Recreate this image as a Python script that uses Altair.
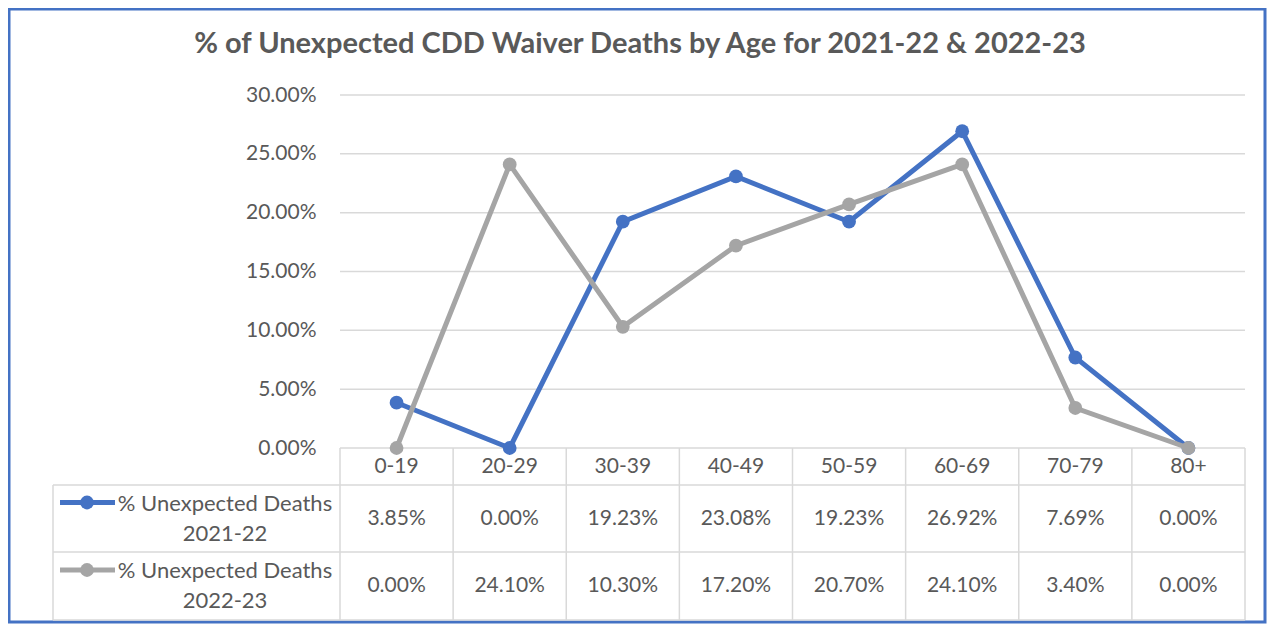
import altair as alt
import pandas as pd

# ---------------- data ----------------
ages = ["0-19", "20-29", "30-39", "40-49", "50-59", "60-69", "70-79", "80+"]
series_names = ["% Unexpected Deaths 2021-22", "% Unexpected Deaths 2022-23"]
vals_2021_22 = [0.0385, 0.0000, 0.1923, 0.2308, 0.1923, 0.2692, 0.0769, 0.0000]
vals_2022_23 = [0.0000, 0.2410, 0.1030, 0.1720, 0.2070, 0.2410, 0.0340, 0.0000]
y_ticks = [0.0, 0.05, 0.10, 0.15, 0.20, 0.25, 0.30]
title_text = "% of Unexpected CDD Waiver Deaths by Age for 2021-22 & 2022-23"

# ---------------- style / layout ----------------
colors = ["#4472C4", "#A5A5A5"]
text_color = "#595959"
grid_color = "#D9D9D9"
border_color = "#4472C4"
FONT = "Lato"
FS = 21

W, H = 1192, 525          # layer area (legend column + plot + table)
PL, PT, PR, PB = 45, 87, 22, 4
X0 = 287                  # left edge of category columns
Y_ZERO = 353              # pixel of 0 %
STEP = (W - X0) / len(ages)
ROW_Y = [353, 390, 457, 525]   # table row borders
ROW_CENTER = [371.5, 423.5, 491]

xscale = alt.Scale(type="point", domain=ages, range=[X0, W], padding=0.5)
yscale = alt.Scale(domain=[0, 0.30], range=[Y_ZERO, 0], nice=False)
yaxis = alt.Axis(offset=-X0, labelPadding=24, ticks=False, domain=False, grid=False,
                 format=".2%", values=y_ticks, labelFont=FONT, labelFontSize=FS,
                 labelColor=text_color, title=None)

def x_enc():
    return alt.X("age:N", scale=xscale, axis=None, sort=ages)

def y_enc():
    return alt.Y("v:Q", scale=yscale, axis=yaxis)

one = pd.DataFrame({"k": [0]})
def deco():
    return alt.Chart(one)

layers = []

# outer border
layers.append(deco().mark_rect(filled=False, stroke=border_color, strokeWidth=3).encode(
    x=alt.value(-44), x2=alt.value(W + 20), y=alt.value(-86), y2=alt.value(H + 2)))

# title
layers.append(deco().mark_text(text=title_text, font=FONT, fontSize=29, fontWeight="bold",
                               color=text_color, align="center", baseline="alphabetic").encode(
    x=alt.value(587), y=alt.value(-42)))

# gridlines (+ y axis)
grid_df = pd.DataFrame({"v": y_ticks})
layers.append(alt.Chart(grid_df).mark_rule(color=grid_color, strokeWidth=1.5).encode(
    y=y_enc(), x=alt.value(X0), x2=alt.value(W)))

# table horizontal borders
for yy in ROW_Y[1:]:
    layers.append(deco().mark_rule(color=grid_color, strokeWidth=1.5).encode(
        x=alt.value(0), x2=alt.value(W), y=alt.value(yy)))
# left border of legend column
layers.append(deco().mark_rule(color=grid_color, strokeWidth=1.5).encode(
    x=alt.value(0), y=alt.value(ROW_Y[1]), y2=alt.value(ROW_Y[3])))
# column dividers
age_df = pd.DataFrame({"age": ages})
layers.append(alt.Chart(age_df).mark_rule(color=grid_color, strokeWidth=1.5, xOffset=-STEP / 2).encode(
    x=x_enc(), y=alt.value(ROW_Y[0]), y2=alt.value(ROW_Y[3])))
layers.append(alt.Chart(pd.DataFrame({"age": [ages[-1]]})).mark_rule(
    color=grid_color, strokeWidth=1.5, xOffset=STEP / 2).encode(
    x=x_enc(), y=alt.value(ROW_Y[0]), y2=alt.value(ROW_Y[3])))

# header row (category labels)
layers.append(alt.Chart(age_df).mark_text(font=FONT, fontSize=FS, color=text_color,
                                          baseline="middle", align="center").encode(
    x=x_enc(), y=alt.value(ROW_CENTER[0]), text="age:N"))

series_vals = [vals_2021_22, vals_2022_23]
for i, (name, vals, col) in enumerate(zip(series_names, series_vals, colors)):
    df = pd.DataFrame({"age": ages, "v": vals})
    # line + markers
    layers.append(alt.Chart(df).mark_line(
        color=col, strokeWidth=5,
        point=alt.OverlayMarkDef(color=col, size=190, filled=True, opacity=1)).encode(
        x=x_enc(), y=y_enc()))
    # table values
    layers.append(alt.Chart(df).mark_text(font=FONT, fontSize=FS, color=text_color,
                                          baseline="middle", align="center").encode(
        x=x_enc(), y=alt.value(ROW_CENTER[i + 1]), text=alt.Text("v:Q", format=".2%")))
    # legend symbol + label in table
    sym_y = ROW_CENTER[i + 1] - 16
    layers.append(deco().mark_rule(color=col, strokeWidth=5).encode(
        x=alt.value(7), x2=alt.value(62), y=alt.value(sym_y)))
    layers.append(deco().mark_point(color=col, size=190, filled=True, opacity=1).encode(
        x=alt.value(34), y=alt.value(sym_y)))
    label = name.replace(" 20", "\n20", 1)
    layers.append(deco().mark_text(text=label, lineBreak="\n", lineHeight=30, font=FONT,
                                   fontSize=22, color=text_color, align="center",
                                   baseline="middle").encode(
        x=alt.value(172), y=alt.value(ROW_CENTER[i + 1] - 15)))

chart = alt.layer(*layers).properties(
    width=W, height=H,
    autosize=alt.AutoSizeParams(type="none"),
    padding={"left": PL, "top": PT, "right": PR, "bottom": PB},
    background="white",
).configure_view(stroke=None)

chart.save("out.html", embed_options={"renderer": "svg", "actions": False})
